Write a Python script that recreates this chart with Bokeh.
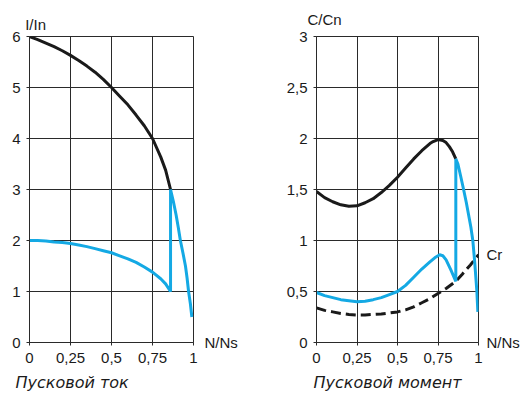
from bokeh.plotting import figure
from bokeh.layouts import row
from bokeh.models import Range1d, FixedTicker, LinearAxis, Title
from bokeh.embed import file_html
from bokeh.resources import INLINE

# ---------------- data ----------------
speed_ticks = [0, 0.25, 0.5, 0.75, 1]
speed_tick_labels = ["0", "0,25", "0,5", "0,75", "1"]
current_ticks = [0, 1, 2, 3, 4, 5, 6]
current_tick_labels = ["0", "1", "2", "3", "4", "5", "6"]
torque_ticks = [0, 0.5, 1, 1.5, 2, 2.5, 3]
torque_tick_labels = ["0", "0,5", "1", "1,5", "2", "2,5", "3"]

# right-hand texts, placed at these y values
current_right_ticks = [0]
current_right_labels = ["N/Ns"]
torque_right_ticks = [0, 0.86]
torque_right_labels = ["N/Ns", "Cr"]

# top texts (quantity names), placed at these x values
current_top_ticks = [0.037]
current_top_labels = ["I/In"]
torque_top_ticks = [0.05]
torque_top_labels = ["C/Cn"]

current_caption = "Пусковой ток"
torque_caption = "Пусковой момент"

# Starting current, direct on line (black)
speed_i_direct = [0, 0.05, 0.1, 0.15, 0.2, 0.25, 0.3, 0.35, 0.4, 0.45, 0.5,
                  0.55, 0.6, 0.65, 0.7, 0.75, 0.8, 0.83, 0.86]
current_direct = [6.0, 5.94, 5.87, 5.8, 5.72, 5.63, 5.53, 5.42, 5.3, 5.16, 5.0,
                  4.83, 4.66, 4.46, 4.25, 4.0, 3.64, 3.38, 3.0]

# Starting current, star-delta (blue)
speed_i_sd = [0, 0.05, 0.1, 0.15, 0.2, 0.25, 0.3, 0.35, 0.4, 0.45, 0.5,
              0.55, 0.6, 0.65, 0.7, 0.75, 0.8, 0.83, 0.86,
              0.86, 0.877, 0.894, 0.907, 0.92, 0.936, 0.951, 0.961, 0.97, 0.981, 0.99]
current_sd = [2.0, 2.0, 1.99, 1.97, 1.96, 1.94, 1.91, 1.88, 1.84, 1.8, 1.76,
              1.7, 1.64, 1.57, 1.48, 1.38, 1.25, 1.15, 1.0,
              3.0, 2.77, 2.5, 2.26, 2.0, 1.75, 1.5, 1.26, 1.0, 0.76, 0.5]

# Starting torque, direct on line (black)
speed_c_direct = [0, 0.05, 0.1, 0.15, 0.2, 0.25, 0.3, 0.35, 0.4, 0.45, 0.5,
                  0.55, 0.6, 0.65, 0.7, 0.72, 0.75, 0.78, 0.8, 0.82, 0.84, 0.86]
torque_direct = [1.48, 1.42, 1.38, 1.35, 1.335, 1.34, 1.37, 1.41, 1.47, 1.54, 1.62,
                 1.71, 1.8, 1.88, 1.95, 1.97, 1.99, 1.98, 1.96, 1.92, 1.87, 1.8]

# Starting torque, star-delta (blue)
speed_c_sd = [0, 0.05, 0.1, 0.15, 0.2, 0.25, 0.3, 0.35, 0.4, 0.45, 0.5,
              0.55, 0.6, 0.65, 0.7, 0.73, 0.76, 0.78, 0.8, 0.83, 0.86,
              0.86, 0.873, 0.89, 0.908, 0.925, 0.939, 0.953, 0.965, 0.977, 0.99, 0.996]
torque_sd = [0.49, 0.46, 0.44, 0.42, 0.41, 0.40, 0.405, 0.42, 0.44, 0.47, 0.5,
             0.56, 0.64, 0.72, 0.79, 0.83, 0.86, 0.85, 0.81, 0.71, 0.6,
             1.8, 1.75, 1.63, 1.5, 1.37, 1.25, 1.13, 1.0, 0.78, 0.5, 0.3]

# Resistant torque Cr (dashed)
speed_cr = [0, 0.05, 0.1, 0.15, 0.2, 0.25, 0.3, 0.35, 0.4, 0.45, 0.5,
            0.55, 0.6, 0.65, 0.7, 0.75, 0.8, 0.86, 0.9, 0.95, 1.0]
torque_cr = [0.34, 0.315, 0.3, 0.285, 0.275, 0.27, 0.27, 0.275, 0.28, 0.29, 0.3,
             0.32, 0.35, 0.39, 0.43, 0.48, 0.53, 0.6, 0.67, 0.76, 0.86]

# ---------------- styling ----------------
FONT = "Liberation Sans"
CAP_FONT = "DejaVu Sans"
BLACK = "#1a1a1a"
BLUE = "#14a9e4"
GRID = "#2a2a2a"


def text_axis(ticks, labels, standoff):
    return LinearAxis(ticker=FixedTicker(ticks=ticks),
                      major_label_overrides={float(t): s for t, s in zip(ticks, labels)},
                      axis_line_color=None, major_tick_line_color=None,
                      minor_tick_line_color=None, major_tick_in=0, major_tick_out=0,
                      major_label_standoff=standoff,
                      major_label_text_font=FONT, major_label_text_font_size="15px",
                      major_label_text_color=BLACK)


def make_fig(width, height, y_end, bl, bt, br, bb, yticks, ylabels,
             rticks, rlabels, rstandoff, tticks, tlabels, tstandoff, caption, cap_offset):
    p = figure(width=width, height=height, x_range=Range1d(0, 1),
               y_range=Range1d(0, y_end), output_backend="svg",
               toolbar_location=None, title=None,
               min_border_left=bl, min_border_top=bt,
               min_border_right=br, min_border_bottom=bb)
    p.background_fill_color = "white"
    p.border_fill_color = "white"
    p.outline_line_color = GRID
    p.outline_line_width = 1
    p.xgrid.ticker = FixedTicker(ticks=speed_ticks)
    p.ygrid.ticker = FixedTicker(ticks=yticks)
    for g in (p.xgrid, p.ygrid):
        g.grid_line_color = GRID
        g.grid_line_width = 1
    p.xaxis.ticker = FixedTicker(ticks=speed_ticks)
    p.yaxis.ticker = FixedTicker(ticks=yticks)
    p.xaxis.major_label_overrides = {float(t): s for t, s in zip(speed_ticks, speed_tick_labels)}
    p.yaxis.major_label_overrides = {float(t): s for t, s in zip(yticks, ylabels)}
    for ax in (p.xaxis, p.yaxis):
        ax.axis_line_color = GRID
        ax.major_tick_line_color = GRID
        ax.major_tick_in = 0
        ax.major_tick_out = 3
        ax.minor_tick_line_color = None
        ax.major_label_text_font = FONT
        ax.major_label_text_font_size = "15px"
        ax.major_label_text_color = BLACK
    p.xaxis.major_label_standoff = 7
    p.yaxis.major_label_standoff = 6

    # right-hand texts (N/Ns, Cr) and top text (I/In, C/Cn) as labels of bare axes
    p.add_layout(text_axis(rticks, rlabels, rstandoff), "right")
    p.add_layout(text_axis(tticks, tlabels, tstandoff), "above")

    p.add_layout(Title(text=caption, align="left", offset=cap_offset, standoff=11,
                       text_font=CAP_FONT, text_font_size="16px", text_font_style="italic",
                       text_color=BLACK), "below")
    return p


# ---------------- left: starting current ----------------
p1 = make_fig(258, 399, 6, 29, 36, 65, 57, current_ticks, current_tick_labels,
              current_right_ticks, current_right_labels, 11,
              current_top_ticks, current_top_labels, 4, current_caption, -14)
p1.line(speed_i_direct, current_direct, line_color=BLACK, line_width=3)
p1.line(speed_i_sd, current_sd, line_color=BLUE, line_width=3)

# ---------------- right: starting torque ----------------
p2 = make_fig(265, 399, 3, 58, 36, 45, 57, torque_ticks, torque_tick_labels,
              torque_right_ticks, torque_right_labels, 8,
              torque_top_ticks, torque_top_labels, 9, torque_caption, -3)
p2.line(speed_cr, torque_cr, line_color=BLACK, line_width=3, line_dash="10 5")
p2.line(speed_c_direct, torque_direct, line_color=BLACK, line_width=3)
p2.line(speed_c_sd, torque_sd, line_color=BLUE, line_width=3)

layout = row(p1, p2)
open("out.html", "w").write(file_html(layout, INLINE))
